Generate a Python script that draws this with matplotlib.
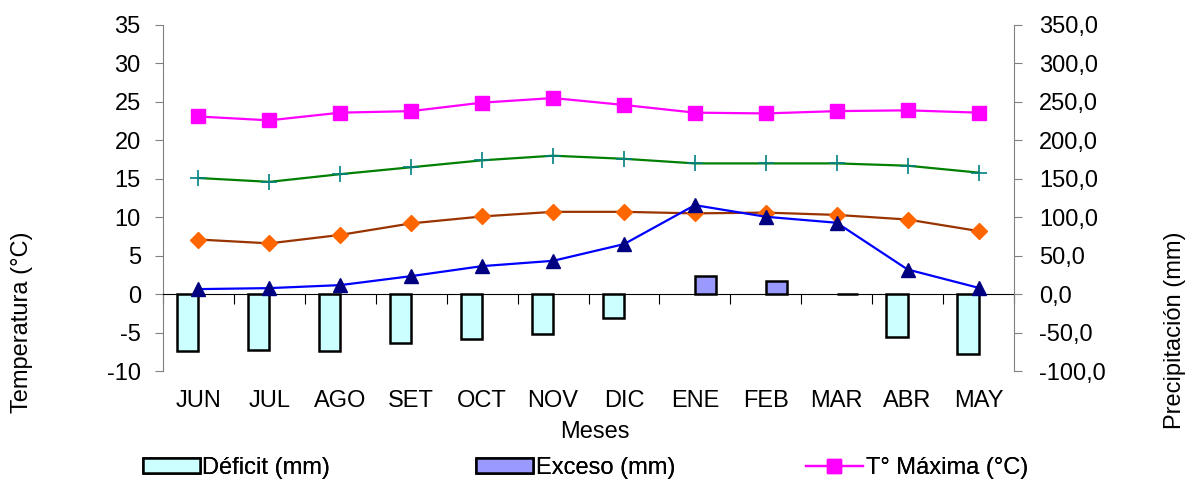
import matplotlib
matplotlib.use("Agg")
import matplotlib.pyplot as plt
import numpy as np
from matplotlib.ticker import MultipleLocator, FuncFormatter

# datos
meses = ["JUN", "JUL", "AGO", "SET", "OCT", "NOV", "DIC", "ENE", "FEB", "MAR", "ABR", "MAY"]
t_max = [23.1, 22.6, 23.6, 23.8, 24.9, 25.5, 24.6, 23.6, 23.5, 23.8, 23.9, 23.6]
t_media = [15.1, 14.6, 15.6, 16.5, 17.4, 18.0, 17.6, 17.0, 17.0, 17.0, 16.7, 15.8]
t_min = [7.1, 6.6, 7.7, 9.2, 10.1, 10.7, 10.7, 10.5, 10.6, 10.3, 9.7, 8.2]
precip = [6.5, 7.8, 11.7, 23.4, 36.4, 43.3, 65.0, 115.7, 100.6, 92.8, 32.0, 8.2]
deficit = [-73.7, -72.8, -73.7, -64.2, -58.9, -52.4, -30.8, 0, 0, 0, -56.3, -78.4]
exceso = [0, 0, 0, 0, 0, 0, 0, 23.4, 17.3, 0.4, 0, 0]

plt.rcParams['font.family'] = ['Liberation Sans', 'DejaVu Sans']
plt.rcParams['font.size'] = 17
plt.rcParams['axes.unicode_minus'] = False

W, H = 1187, 486
fig = plt.figure(figsize=(W / 100, H / 100), dpi=100)
ax = fig.add_axes([163 / W, 1 - 371 / H, (1014 - 163) / W, (371 - 25) / H])
ax2 = ax.twinx()
x = np.arange(len(meses))

# barras de balance hidrico (eje mm); los meses sin valor no llevan barra
d = np.array(deficit)
e = np.array(exceso)
md = d != 0
me = e != 0
b_def = ax2.bar(x[md] - 0.15, d[md], 0.3, color='#CCFFFF', edgecolor='black', linewidth=1.8)
b_exc = ax2.bar(x[me] + 0.15, e[me], 0.3, color='#9999FF', edgecolor='black', linewidth=1.8)
l_pp, = ax2.plot(x, precip, color='#0000FF', lw=1.6, marker='^', ms=10,
                 mfc='#000080', mec='#000080')

# temperaturas (eje °C)
l_max, = ax.plot(x, t_max, color='#FF00FF', lw=1.6, marker='s', ms=10)
l_med, = ax.plot(x, t_media, color='#008000', lw=1.6, marker='+', ms=11,
                 mec='#008080', mew=1.2)
l_min, = ax.plot(x, t_min, color='#993300', lw=1.6, marker='D', ms=8,
                 mfc='#FF6600', mec='#FF6600')

ax.set_xlim(-0.5, 11.5)
ax.set_ylim(-10, 35)
ax2.set_ylim(-100, 350)
ax.yaxis.set_major_locator(MultipleLocator(5))
ax2.yaxis.set_major_locator(MultipleLocator(50))
ax2.yaxis.set_major_formatter(FuncFormatter(lambda v, p: f"{v:.1f}".replace('.', ',')))

for a in (ax, ax2):
    a.spines['top'].set_visible(False)
ax.spines['right'].set_visible(False)
ax2.spines['left'].set_visible(False)
ax2.spines['bottom'].set_visible(False)
ax.spines['left'].set_color('#808080')
ax2.spines['right'].set_color('#808080')
ax.spines['bottom'].set_position(('data', 0))
ax.spines['bottom'].set_color('black')

ax.tick_params(axis='y', length=6, pad=10, color='#808080')
ax2.tick_params(axis='y', length=6, pad=12, color='#808080')
ax.set_xticks(np.arange(-0.5, 12, 1))
ax.set_xticklabels([])
ax.tick_params(axis='x', length=7, color='black')

sec = ax.secondary_xaxis('bottom')
sec.set_xticks(x, meses)
sec.tick_params(length=0, pad=14)
sec.spines['bottom'].set_visible(False)

fig.text(22 / W, 1 - 322 / H, "Temperatura (°C)", rotation=90, ha='center', va='center')
fig.text(1175 / W, 1 - 330 / H, "Precipitación (mm)", rotation=90, ha='center', va='center')
fig.text(595 / W, 1 - 432 / H, "Meses", ha='center', va='center')

# leyenda: solo la fila visible en el recorte
cols = [(b_def, "Déficit (mm)", 143),
        (b_exc, "Exceso (mm)", 476),
        (l_max, "T° Máxima (°C)", 806)]
for h, lab, px in cols:
    leg = fig.legend([h], [lab], loc='upper left', bbox_to_anchor=(px / W, 1 - 457 / H),
                     frameon=False, borderpad=0, borderaxespad=0, handlelength=2.4,
                     handleheight=0.6, handletextpad=0.12)
    fig.add_artist(leg)

fig.savefig("out.png", dpi=100)
